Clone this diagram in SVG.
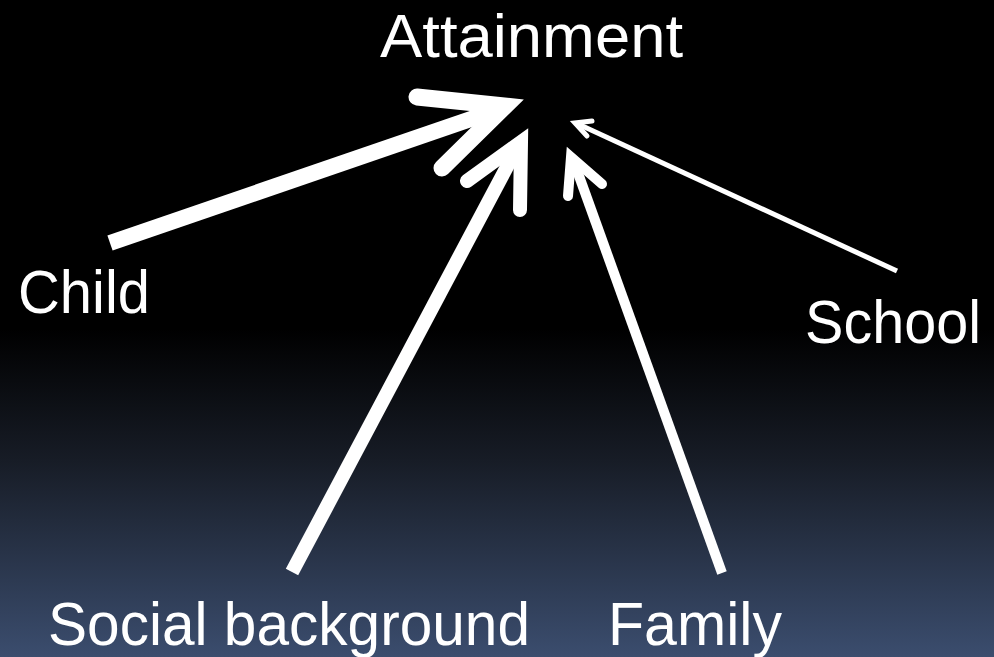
<svg xmlns="http://www.w3.org/2000/svg" width="994" height="657" viewBox="0 0 994 657">
<defs>
<linearGradient id="bg" x1="0" y1="0" x2="0" y2="1">
<stop offset="0" stop-color="#000"/>
<stop offset="0.5" stop-color="#000"/>
<stop offset="0.7" stop-color="#171c26"/>
<stop offset="1" stop-color="#3b4d6e"/>
</linearGradient>
<style>
.t{font-family:"Liberation Sans",Arial,sans-serif;font-size:61px;fill:#fff}
.c{fill:none;stroke:#fff;stroke-linejoin:miter}
.h{fill:none;stroke:#fff;stroke-linecap:round;stroke-linejoin:miter}
</style>
</defs>
<rect width="994" height="657" fill="url(#bg)"/>
<g id="attainment"><text class="t" x="380" y="57" textLength="303" lengthAdjust="spacingAndGlyphs">Attainment</text></g>
<g id="child"><text class="t" x="18" y="313" textLength="132" lengthAdjust="spacingAndGlyphs">Child</text></g>
<g id="school"><text class="t" x="805" y="343" textLength="176" lengthAdjust="spacingAndGlyphs">School</text></g>
<g id="social"><text class="t" x="48" y="645" textLength="482" lengthAdjust="spacingAndGlyphs">Social background</text></g>
<g id="family"><text class="t" x="608" y="645" textLength="174" lengthAdjust="spacingAndGlyphs">Family</text></g>
<g id="connectors">
<line class="c" x1="110" y1="243" x2="500" y2="109" stroke-width="16"/>
<polyline class="h" points="417,97 505,106 442,168" stroke-width="17"/>
<line class="c" x1="292" y1="572" x2="518" y2="146" stroke-width="14"/>
<polyline class="h" points="467,181 521,142 520,210" stroke-width="14"/>
<line class="c" x1="722" y1="573" x2="574" y2="162" stroke-width="10"/>
<polyline class="h" points="568,196 571,157 602,184" stroke-width="10"/>
<line class="c" x1="897" y1="271" x2="578" y2="124" stroke-width="5"/>
<polyline class="h" points="592,121 575,123 587,136" stroke-width="5"/>
</g>
</svg>
